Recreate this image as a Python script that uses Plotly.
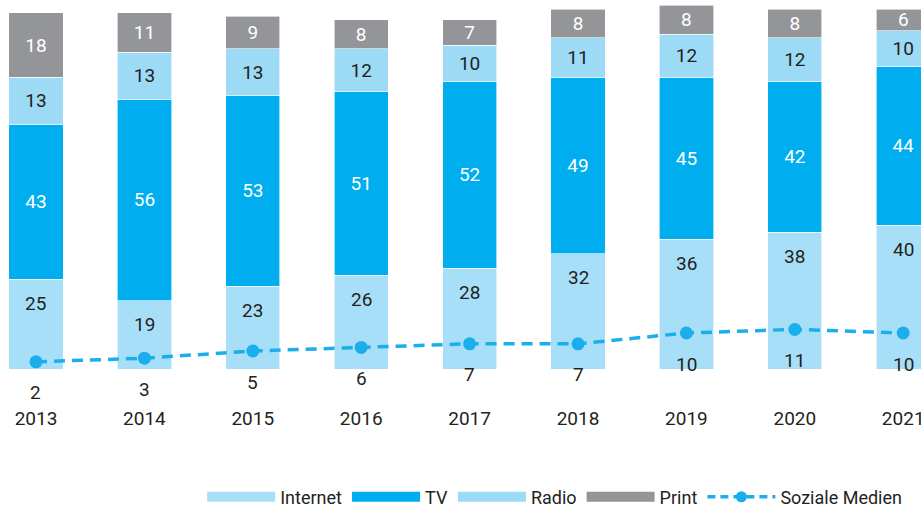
import plotly.graph_objects as go

years = ["2013", "2014", "2015", "2016", "2017", "2018", "2019", "2020", "2021"]
internet = [25, 19, 23, 26, 28, 32, 36, 38, 40]
tv = [43, 56, 53, 51, 52, 49, 45, 42, 44]
radio = [13, 13, 13, 12, 10, 11, 12, 12, 10]
printm = [18, 11, 9, 8, 7, 8, 8, 8, 6]
social = [2, 3, 5, 6, 7, 7, 10, 11, 10]

C_INTERNET = "#A8DFF8"
C_TV = "#00AEEF"
C_RADIO = "#9DDAF6"
C_PRINT = "#939598"
C_SOCIAL = "#1AAFEC"
FONT = "Roboto, 'Liberation Sans', sans-serif"
DARK = "#231F20"
FS = 19

fig = go.Figure()

def add_bar(name, vals, color, tcolor, show_text=True):
    fig.add_trace(go.Bar(
        x=years, y=vals, name=name,
        marker=dict(color=color, line=dict(color="white", width=0.6)),
        text=[str(v) for v in vals] if show_text else None,
        textposition="inside" if show_text else "none",
        insidetextanchor="middle", textangle=0, constraintext="none",
        textfont=dict(family=FONT, size=FS, color=tcolor),
        showlegend=False, hoverinfo="skip",
    ))

add_bar("Internet", internet, C_INTERNET, DARK, show_text=False)
add_bar("TV", tv, C_TV, "white")
add_bar("Radio", radio, C_RADIO, DARK)
add_bar("Print", printm, C_PRINT, "white")

fig.add_trace(go.Scatter(
    x=years, y=social, mode="lines+markers", name="Soziale Medien",
    line=dict(color=C_SOCIAL, width=3.5, dash="11px,7px"),
    marker=dict(size=13, color=C_SOCIAL), showlegend=False, hoverinfo="skip",
))

# Internet labels, placed near the top of the internet segment
for i, v in enumerate(internet):
    fig.add_annotation(x=i, y=v, text=str(v), showarrow=False, yshift=-24,
                       font=dict(family=FONT, size=FS, color=DARK))

# Social media labels below the points
for i, v in enumerate(social):
    fig.add_annotation(x=i, y=v, text=str(v), showarrow=False, yshift=-31,
                       font=dict(family=FONT, size=FS, color=DARK))

# legend-only entries
for name, color in [("Internet", C_INTERNET), ("TV", C_TV), ("Radio", C_RADIO), ("Print", C_PRINT)]:
    fig.add_trace(go.Scatter(x=[None], y=[None], mode="lines", name=name,
                             line=dict(color=color, width=12)))
fig.add_trace(go.Scatter(x=[None], y=[None], mode="lines+markers", name="Soziale Medien",
                         line=dict(color=C_SOCIAL, width=3.5, dash="8px,5px"),
                         marker=dict(size=11, color=C_SOCIAL)))

fig.update_layout(
    barmode="stack", bargap=0.5,
    width=921, height=508,
    margin=dict(l=0, r=0, t=0, b=139, autoexpand=False),
    paper_bgcolor="white", plot_bgcolor="white",
    font=dict(family=FONT, size=FS, color=DARK),
    xaxis=dict(type="category", range=[-0.332, 8.164], showgrid=False, zeroline=False,
               showline=False, ticks="outside", ticklen=32, tickcolor="rgba(0,0,0,0)",
               tickfont=dict(family=FONT, size=FS, color=DARK), fixedrange=True),
    yaxis=dict(range=[0, 102.5], visible=False, fixedrange=True),
    legend=dict(orientation="h", x=0.985, xanchor="right", y=-0.347, yanchor="middle",
                font=dict(family=FONT, size=18, color=DARK), itemwidth=68,
                traceorder="normal", tracegroupgap=0, bgcolor="rgba(0,0,0,0)"),
    showlegend=True,
)

fig.write_html("out.html", config={"displayModeBar": False},
               post_script="document.body.style.margin='0px';")
